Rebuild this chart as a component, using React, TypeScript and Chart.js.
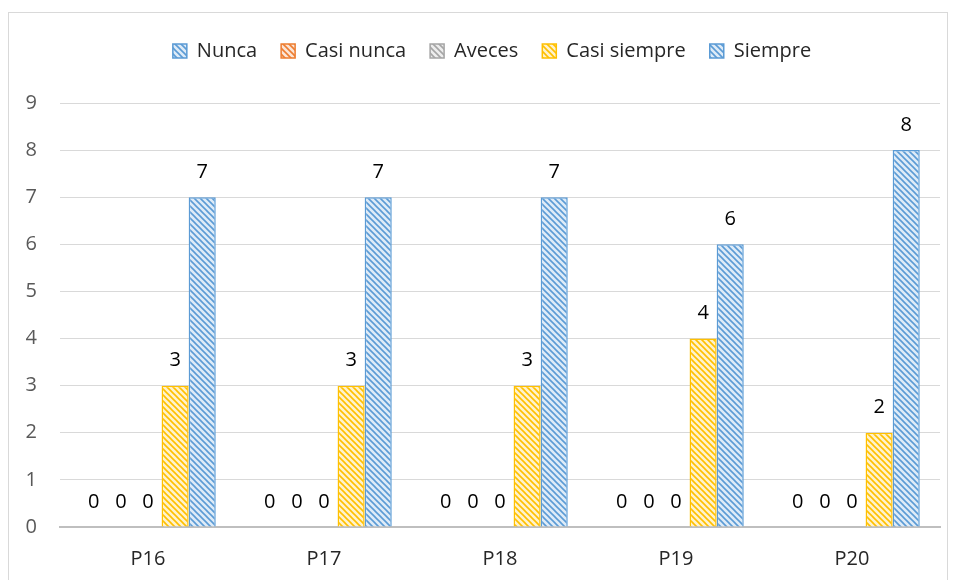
import React, { useEffect, useRef } from "react";
import { Chart, registerables } from "chart.js";

Chart.register(...registerables);

const categories = ["P16", "P17", "P18", "P19", "P20"];
const seriesNames = ["Nunca", "Casi nunca", "Aveces", "Casi siempre", "Siempre"];
const nunca = [0, 0, 0, 0, 0];
const casiNunca = [0, 0, 0, 0, 0];
const aveces = [0, 0, 0, 0, 0];
const casiSiempre = [3, 3, 3, 4, 2];
const siempre = [7, 7, 7, 6, 8];
const yTicks = [0, 1, 2, 3, 4, 5, 6, 7, 8, 9];

const seriesColors = ["#5B9BD5", "#ED7D31", "#A5A5A5", "#FFC000", "#5B9BD5"];
const seriesLight = ["#DEEBF7", "#FBE5D6", "#EDEDED", "#FFF2CC", "#DEEBF7"];

const FONT = "'Open Sans', 'Noto Sans', sans-serif";

function makePattern(color: string, light: string): CanvasPattern | string {
  const c = document.createElement("canvas");
  c.width = 6;
  c.height = 6;
  const ctx = c.getContext("2d");
  if (!ctx) return color;
  ctx.fillStyle = light;
  ctx.fillRect(0, 0, 6, 6);
  ctx.strokeStyle = color;
  ctx.lineWidth = 1.6;
  ctx.beginPath();
  ctx.moveTo(-1, -1);
  ctx.lineTo(7, 7);
  ctx.moveTo(-4, 2);
  ctx.lineTo(2, 8);
  ctx.moveTo(2, -4);
  ctx.lineTo(8, 2);
  ctx.stroke();
  const p = ctx.createPattern(c, "repeat");
  return p || color;
}

const valueLabels = {
  id: "valueLabels",
  afterDatasetsDraw(chart: any) {
    const ctx = chart.ctx;
    ctx.save();
    ctx.font = `20px ${FONT}`;
    ctx.fillStyle = "#000000";
    ctx.textAlign = "center";
    ctx.textBaseline = "middle";
    chart.data.datasets.forEach((ds: any, i: number) => {
      const meta = chart.getDatasetMeta(i);
      meta.data.forEach((bar: any, j: number) => {
        ctx.fillText(String(ds.data[j]), bar.x, bar.y - 25);
      });
    });
    ctx.restore();
  },
};

const legendTweak = {
  id: "legendTweak",
  beforeInit(chart: any) {
    if (!chart.legend) return;
    const legend = chart.legend;
    const origFit = legend.fit;
    legend.fit = function () {
      origFit.call(this);
      this.height += 32;
    };
    const origDraw = legend.draw;
    legend.draw = function () {
      const ctx = this.ctx;
      ctx.save();
      ctx.translate(9, 0);
      origDraw.call(this);
      ctx.restore();
    };
  },
};

export default function App() {
  const ref = useRef<HTMLCanvasElement | null>(null);
  useEffect(() => {
    if (!ref.current) return;
    const allData = [nunca, casiNunca, aveces, casiSiempre, siempre];
    const chart = new Chart(ref.current, {
      type: "bar",
      data: {
        labels: categories,
        datasets: seriesNames.map((name, i) => ({
          label: name,
          data: allData[i],
          backgroundColor: makePattern(seriesColors[i], seriesLight[i]) as any,
          borderColor: seriesColors[i],
          borderWidth: 1.5,
          barPercentage: 1,
          categoryPercentage: 0.77,
        })),
      },
      options: {
        animation: false,
        responsive: true,
        maintainAspectRatio: false,
        layout: { padding: { left: 17, right: 7, top: 4, bottom: 11 } },
        plugins: {
          legend: {
            position: "top",
            labels: {
              boxWidth: 14,
              boxHeight: 14,
              padding: 24,
              color: "#262626",
              font: { size: 20, family: FONT },
            },
          },
          tooltip: { enabled: false },
        },
        scales: {
          x: {
            grid: { display: false },
            border: { color: "#BFBFBF", width: 2 },
            afterFit: (axis: any) => {
              axis.height = 43;
            },
            ticks: {
              color: "#262626",
              padding: 12,
              font: { size: 20, family: FONT },
            },
          },
          y: {
            min: 0,
            max: 9,
            afterFit: (axis: any) => {
              axis.width = 34;
            },
            afterBuildTicks: (axis: any) => {
              axis.ticks = yTicks.map((v) => ({ value: v }));
            },
            grid: { color: "#D9D9D9", lineWidth: 1, drawTicks: false },
            border: { display: false },
            ticks: {
              color: "#595959",
              padding: 23,
              font: { size: 20, family: FONT },
            },
          },
        },
      },
      plugins: [valueLabels, legendTweak],
    });
    return () => chart.destroy();
  }, []);
  return (
    <div
      style={{
        width: 940,
        height: 570,
        marginTop: 4,
        border: "1px solid #D9D9D9",
        boxSizing: "border-box",
        position: "relative",
        background: "#fff",
      }}
    >
      <canvas ref={ref} />
    </div>
  );
}
